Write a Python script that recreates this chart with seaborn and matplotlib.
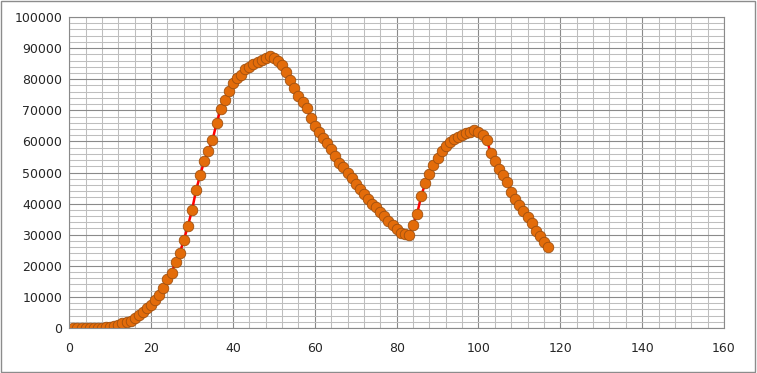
import matplotlib
matplotlib.use("Agg")
import matplotlib.pyplot as plt
from matplotlib.patches import Rectangle
from matplotlib.ticker import MultipleLocator
import seaborn as sns

# point index (1..117) and measured values
x_vals = list(range(1, 118))
y_vals = [
    0, 0, 0, 0, 0, 0, 0, 100, 200, 400,
    600, 1000, 1500, 1900, 2300, 3300, 4200, 5100, 6300, 7400,
    9000, 10500, 13000, 15900, 17800, 21300, 24200, 28200, 32900, 37900,
    44400, 49200, 53800, 57000, 60400, 65900, 70400, 73200, 76200, 78700,
    80500, 81400, 83300, 84000, 84800, 85600, 86200, 86700, 87400, 86700,
    85900, 84500, 82400, 79700, 77100, 74700, 72800, 70800, 67600, 65000,
    62900, 61200, 59600, 57500, 55300, 53200, 51700, 49700, 48100, 46300,
    44600, 43100, 41400, 39900, 38800, 37400, 36000, 34500, 33100, 31700,
    30400, 30300, 30000, 33100, 36700, 42400, 46600, 49500, 52400, 54800,
    56800, 58400, 59900, 60800, 61300, 62000, 62600, 63000, 63700, 63000,
    62000, 60500, 56400, 53800, 51000, 49200, 47000, 43800, 41400, 39500,
    37700, 35800, 33700, 31300, 29600, 27800, 26100,
]

sns.set_style("white")
plt.rcParams['font.family'] = ['DejaVu Sans']

fig = plt.figure(figsize=(7.57, 3.73), dpi=100)
ax = fig.add_axes([0.0915, 0.1206, 0.8649, 0.8338])

sns.lineplot(x=x_vals, y=y_vals, ax=ax, color='#FF0000', linewidth=1.8,
             marker='o', markersize=7.6, markerfacecolor='#E36C0A',
             markeredgecolor='#A0500F', markeredgewidth=0.6)

ax.set_xlim(0, 160)
ax.set_ylim(0, 100000)
ax.xaxis.set_major_locator(MultipleLocator(20))
ax.xaxis.set_minor_locator(MultipleLocator(4))
ax.yaxis.set_major_locator(MultipleLocator(10000))
ax.yaxis.set_minor_locator(MultipleLocator(2000))

ax.grid(which='major', color='#8A8A8A', linewidth=0.8)
ax.grid(which='minor', color='#BEBEBE', linewidth=0.75)
ax.set_axisbelow(True)

for s in ax.spines.values():
    s.set_color('#8A8A8A')
    s.set_linewidth(0.8)

ax.tick_params(axis='x', which='major', direction='out', length=4,
               width=0.8, color='#8A8A8A', pad=6, labelsize=9)
ax.tick_params(axis='y', which='major', direction='out', length=3,
               width=0.8, color='#8A8A8A', pad=2, labelsize=9)
ax.tick_params(which='minor', length=0)
ax.set_xlabel('')
ax.set_ylabel('')

fig.patches.append(Rectangle((0.001, 0.002), 0.997, 0.994, transform=fig.transFigure,
                             fill=False, edgecolor='#8C8C8C', linewidth=1.0))

fig.savefig('out.png', dpi=100)
